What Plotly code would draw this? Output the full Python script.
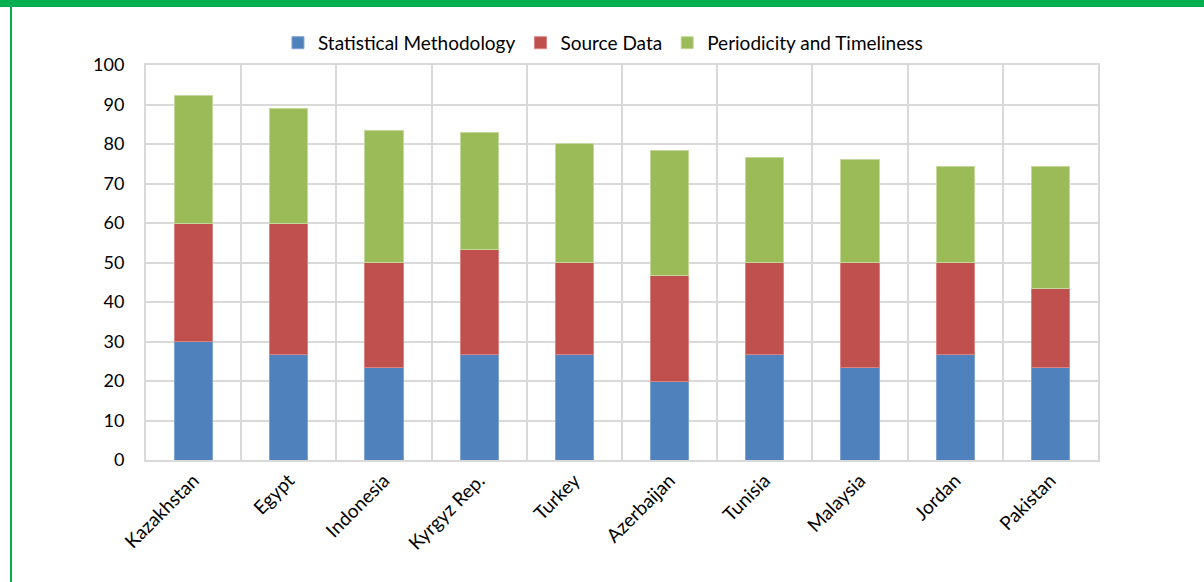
import plotly.graph_objects as go

countries = ["Kazakhstan", "Egypt", "Indonesia", "Kyrgyz Rep.", "Turkey",
             "Azerbaijan", "Tunisia", "Malaysia", "Jordan", "Pakistan"]
statistical_methodology = [30, 26.7, 23.3, 26.7, 26.7, 20, 26.7, 23.3, 26.7, 23.3]
source_data = [30, 33.3, 26.7, 26.7, 23.3, 26.7, 23.3, 26.7, 23.3, 20]
periodicity_timeliness = [32.3, 29.0, 33.4, 29.4, 30.1, 31.6, 26.7, 26.1, 24.4, 31.1]

series = [
    ("Statistical Methodology", statistical_methodology, "#4F81BD", "#7FA3D1"),
    ("Source Data", source_data, "#C0504D", "#D88482"),
    ("Periodicity and Timeliness", periodicity_timeliness, "#9BBB59", "#C3D89A"),
]

font_family = "Lato, 'Open Sans', sans-serif"

fig = go.Figure()
for name, vals, color, edge in series:
    fig.add_trace(go.Bar(
        x=countries, y=vals, name=name,
        marker=dict(color=color, line=dict(color=edge, width=1)),
        width=0.4,
    ))

fig.update_layout(
    barmode="stack",
    width=1204, height=582,
    paper_bgcolor="white", plot_bgcolor="white",
    margin=dict(l=146, r=106, t=65, b=122, autoexpand=False),
    font=dict(family=font_family, color="black", size=17),
    legend=dict(orientation="h", x=0.48, xanchor="center", y=1.056, yanchor="middle",
                font=dict(size=19), traceorder="normal", itemwidth=30,
                bgcolor="rgba(0,0,0,0)"),
    showlegend=True,
    xaxis=dict(tickson="boundaries", showgrid=True, gridcolor="#D9D9D9", gridwidth=2,
               showline=True, linecolor="#D9D9D9", linewidth=2, mirror=True,
               ticks="", tickangle=-45, tickfont=dict(size=19)),
    yaxis=dict(range=[0, 100], dtick=10, showgrid=True, gridcolor="#D9D9D9", gridwidth=2,
               showline=True, linecolor="#D9D9D9", linewidth=2, mirror=True,
               ticks="", tickfont=dict(size=18), ticklabelstandoff=16,
               zeroline=False),
    shapes=[
        dict(type="rect", xref="paper", yref="paper", x0=-1, x1=2,
             y0=1 + (65 - 7) / 395, y1=1 + 70 / 395, fillcolor="#00B050", line=dict(width=0),
             layer="above"),
        dict(type="rect", xref="paper", yref="paper", x0=(10 - 146) / 952, x1=(12 - 146) / 952,
             y0=-2, y1=1 + (65 - 6) / 395, fillcolor="#00B050", line=dict(width=0),
             layer="above"),
    ],
)

fig.write_html("out.html", config={"displayModeBar": False},
               post_script="document.body.style.margin='0';document.body.style.overflow='hidden';")
